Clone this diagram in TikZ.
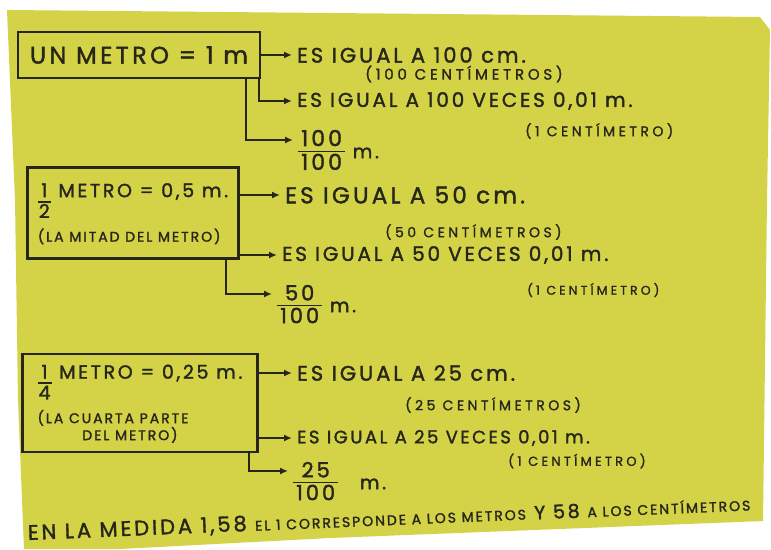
\documentclass[tikz,border=0pt]{standalone}
\usepackage{fontspec}
\setmainfont[LetterSpace=14, FakeBold=1.6]{Poppins}
\newfontfamily\notefont[LetterSpace=25, FakeBold=1.4]{Poppins}
\usepackage{tikz}
\usetikzlibrary{arrows.meta,positioning}
\definecolor{paper}{HTML}{D4D348}
\definecolor{ink}{HTML}{26261A}
\setlength{\arrayrulewidth}{1.8pt}
\newcommand{\topfr}[2]{\begin{tabular}[t]{@{\hspace{1pt}}c@{\hspace{1pt}}}#1\\[-3pt]\hline #2\end{tabular}}
\newcommand{\midfr}[2]{\begin{tabular}{@{\hspace{3pt}}c@{\hspace{3pt}}}#1\\[-3pt]\hline #2\end{tabular}}
\tikzset{
    box/.style={draw=ink, line width=2.2pt, text=ink, align=left, inner sep=6pt},
    conn/.style={draw=ink, line width=2pt, -{Latex[length=8pt,width=7pt]}},
    say/.style={anchor=west, text=ink, inner sep=5pt, font=\fontsize{19}{22}\selectfont},
    note/.style={anchor=west, text=ink, inner sep=0pt, font=\notefont\fontsize{14}{16}\selectfont},
    foot/.style={anchor=base west, rotate=2.4, text=ink, inner sep=0pt}
}

\begin{document}
\begin{tikzpicture}[x=1pt, y=-1pt]
    % Sheet
    \useasboundingbox (0,0) rectangle (771,549);
    \fill[white] (0,0) rectangle (771,549);
    \fill[paper] (7,10) -- (760,17) -- (770,30) -- (767,200) -- (763,521) -- (330,538)
        -- (120,549) -- (24,549) -- (18,400) -- (15,200) -- cycle;

    % One metre
    \node[box, minimum width=242pt, minimum height=46pt, font=\fontsize{24}{28}\selectfont] (b1) at (139,55) {UN METRO = 1 m};
    \node[say, font=\fontsize{21}{24}\selectfont] (e1) at (292,55) {ES IGUAL A 100 cm.};
    \node[note, font=\notefont\fontsize{15}{17}\selectfont] (n1) at (365,74) {(100 CENTÍMETROS)};
    \node[say, font=\fontsize{20}{23}\selectfont] (e2) at (292,101) {ES IGUAL A 100 VECES 0,01 m.};
    \node[note] (n2) at (525,131) {(1 CENTÍMETRO)};
    \node[say] (f1) at (293,153) {{\fontsize{22}{25}\selectfont\midfr{100}{100}} m.};

    \draw[conn] (b1.east |- e1.west) -- (e1.west);
    \draw[conn] ([xshift=-2pt]b1.south east) |- (e2.west);
    \draw[conn] ([xshift=-15pt]b1.south east) |- ([yshift=13pt]f1.west);

    % Half a metre
    \node[box, minimum width=211pt, minimum height=91pt, font=\fontsize{14}{17}\selectfont] (b2) at (133,213)
        {{\fontsize{19}{22}\selectfont\topfr{1}{2} METRO = 0,5 m.}\\[3pt] (LA MITAD DEL METRO)};
    \node[say, font=\fontsize{23}{26}\selectfont] (e3) at (280,195) {ES IGUAL A 50 cm.};
    \node[note] (n3) at (385,232) {(50 CENTÍMETROS)};
    \node[say, font=\fontsize{20}{23}\selectfont] (e4) at (277,255) {ES IGUAL A 50 VECES 0,01 m.};
    \node[note, font=\notefont\fontsize{12.5}{15}\selectfont] (n4) at (527,290) {(1 CENTÍMETRO)};
    \node[say] (f2) at (272,307) {{\fontsize{21}{24}\selectfont\midfr{50}{100}} m.};

    \draw[conn] (b2.east |- e3.west) -- (e3.west);
    \draw[conn] (b2.east |- e4.west) -- (e4.west);
    \draw[conn] ([xshift=-14pt]b2.south east) |- ([yshift=13pt]f2.west);

    % Quarter of a metre
    \node[box, minimum width=235pt, minimum height=98pt, font=\fontsize{14}{17}\selectfont] (b3) at (140,403)
        {{\fontsize{19}{22}\selectfont\topfr{1}{4} METRO = 0,25 m.}\\[3pt] (LA CUARTA PARTE\\ \hspace*{3.2em}DEL METRO)};
    \node[say, font=\fontsize{21}{24}\selectfont] (e5) at (292,373) {ES IGUAL A 25 cm.};
    \node[note] (n5) at (405,405) {(25 CENTÍMETROS)};
    \node[say, font=\fontsize{18}{21}\selectfont] (e6) at (292,438) {ES IGUAL A 25 VECES 0,01 m.};
    \node[note, font=\notefont\fontsize{13}{15}\selectfont] (n6) at (508,461) {(1 CENTÍMETRO)};
    \node[say] (f3) at (288,484) {{\fontsize{21}{24}\selectfont\midfr{25}{100}}\hspace{14pt} m.};

    \draw[conn] (b3.east |- e5.west) -- (e5.west);
    \draw[conn] (b3.east |- e6.west) -- (e6.west);
    \draw[conn] ([xshift=-10pt]b3.south east) |- ([yshift=13pt]f3.west);

    % Closing line
    \node[foot, font=\fontsize{21}{24}\selectfont] (foot1) at (28,540) {EN LA MEDIDA 1,58};
    \node[foot, font=\fontsize{14}{16}\selectfont] (foot2) at ([xshift=8pt]foot1.base east) {EL 1 CORRESPONDE A LOS METROS};
    \node[foot, font=\fontsize{19}{22}\selectfont] (foot3) at ([xshift=8pt]foot2.base east) {Y 58 \fontsize{14}{16}\selectfont A LOS CENTÍMETROS};
\end{tikzpicture}
\end{document}
